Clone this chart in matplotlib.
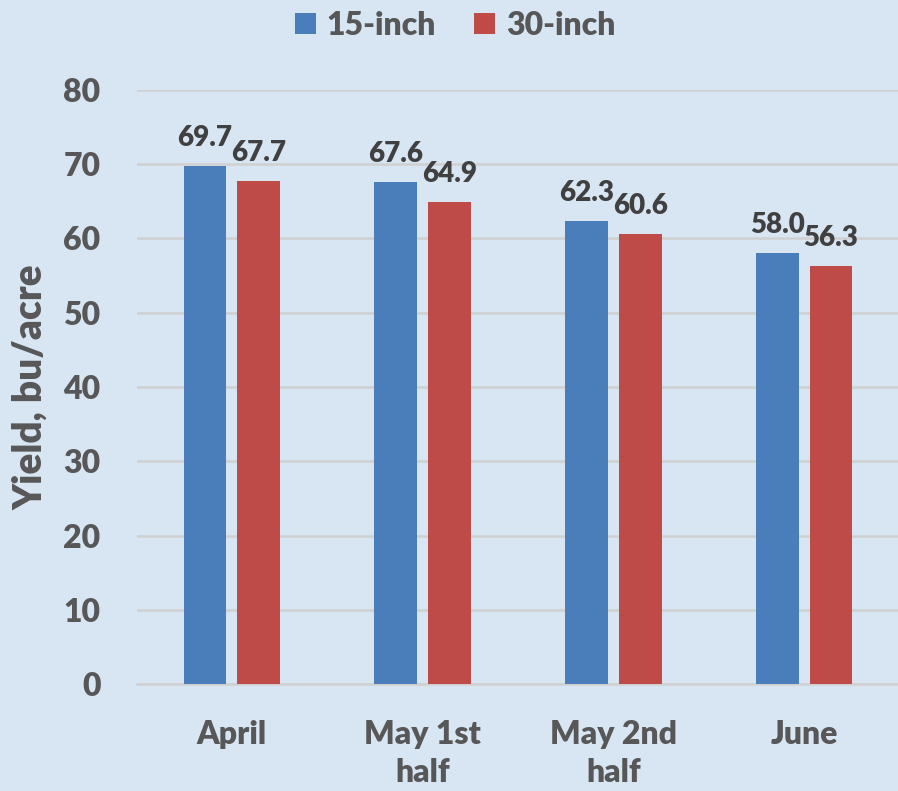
import matplotlib
matplotlib.use("Agg")
import matplotlib.pyplot as plt
import numpy as np

categories = ["April", "May 1st\nhalf", "May 2nd\nhalf", "June"]
series_names = ["15-inch", "30-inch"]
yield_15 = [69.7, 67.6, 62.3, 58.0]
yield_30 = [67.7, 64.9, 60.6, 56.3]
y_ticks = [0, 10, 20, 30, 40, 50, 60, 70, 80]

colors = ["#4a7ebb", "#be4b48"]
bg = "#d8e6f3"
text_col = "#575757"
label_col = "#404040"
weight = "heavy"

plt.rcParams["font.family"] = ["Lato", "DejaVu Sans"]
plt.rcParams["font.weight"] = weight

fig = plt.figure(figsize=(8.98, 7.91), dpi=100, facecolor=bg)
ax = fig.add_axes([136.5 / 898, 1 - 684 / 791, (899.5 - 136.5) / 898, (684 - 90) / 791])
ax.set_facecolor(bg)

x = np.arange(len(categories))
w = 0.225
off = 0.141
for vals, dx, col, name in [(yield_15, -off, colors[0], series_names[0]),
                            (yield_30, off, colors[1], series_names[1])]:
    bars = ax.bar(x + dx, vals, width=w, color=col, label=name, zorder=3)
    for b, v in zip(bars, vals):
        ax.annotate(f"{v:.1f}", (b.get_x() + b.get_width() / 2, v),
                    xytext=(0, 14.5), textcoords="offset points",
                    ha="center", va="baseline", fontsize=20, fontweight=weight,
                    color=label_col, zorder=4)

ax.set_xlim(-0.5, len(categories) - 0.5)
ax.set_ylim(0, 80)
ax.set_yticks(y_ticks)
ax.yaxis.grid(True, color="#d0d0d0", linewidth=1.8, zorder=0)
ax.set_axisbelow(True)
for s in ["top", "right", "left"]:
    ax.spines[s].set_visible(False)
ax.spines["bottom"].set_color("#d0d0d0")
ax.spines["bottom"].set_linewidth(1.8)
ax.tick_params(axis="both", length=0, colors=text_col)
ax.tick_params(axis="y", pad=26, labelsize=23)
ax.tick_params(axis="x", pad=26, labelsize=23)
ax.set_xticks(x)
ax.set_xticklabels(categories, fontweight=weight, linespacing=1.36)
for t in ax.get_yticklabels():
    t.set_fontweight(weight)
ax.set_ylabel("Yield, bu/acre", fontsize=28, fontweight=weight, color=text_col, labelpad=10)

leg = fig.legend(loc="upper center", bbox_to_anchor=(0.507, 1.023), ncol=2, frameon=False,
                 fontsize=23, handlelength=0.65, handleheight=0.65, handletextpad=0.35,
                 columnspacing=1.2)
for t in leg.get_texts():
    t.set_color(text_col)
    t.set_fontweight(weight)

fig.savefig("out.png", dpi=100, facecolor=bg)
